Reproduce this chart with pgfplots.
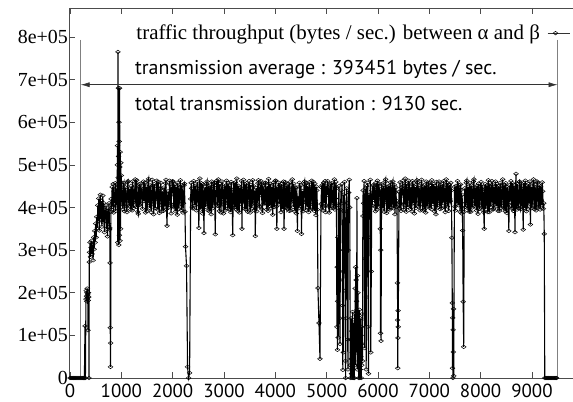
\documentclass[border=0pt]{standalone}
\usepackage{fontspec}
\setmainfont{Liberation Serif}
\newfontfamily\sansf{PT Sans}
\usepackage{pgfplots}
\pgfplotsset{compat=1.18}
\usetikzlibrary{arrows.meta}
\begin{document}
\begin{tikzpicture}
\useasboundingbox (0,0) rectangle (573bp,402bp);
\begin{axis}[
  at={(69bp,24bp)}, anchor=south west,
  width=504bp, height=370bp, scale only axis,
  xmin=-20, xmax=9800, ymin=0, ymax=868,
  clip=false,
  axis x line*=box, axis y line*=left,
  axis line style={black!70, line width=0.6pt},
  tick style={black!70, line width=0.6pt},
  tick align=inside, major tick length=6bp,
  xtick={0,1000,2000,3000,4000,5000,6000,7000,8000,9000},
  xticklabels={0,1000,2000,3000,4000,5000,6000,7000,8000,9000},
  ytick={0,100,200,300,400,500,600,700,800},
  yticklabels={0,1e+05,2e+05,3e+05,4e+05,5e+05,6e+05,7e+05,8e+05},
  yticklabel style={font=\fontsize{20}{20}\selectfont, inner sep=1bp},
  xticklabel style={font=\sansf\fontsize{19}{19}\selectfont, inner sep=1bp, yshift=-5bp},
  legend plot pos=right,
  legend cell align=right,
  legend style={at={(0.994,0.932)}, anchor=east, draw=none, fill=none, inner sep=0pt,
    font=\fontsize{21}{21}\selectfont},
  legend image code/.code={%
    \path (0bp,0bp);
    \draw[#1, line width=0.5pt, black!80] (5bp,0bp) -- (27bp,0bp);
    \draw[#1, line width=0.5pt] plot coordinates {(13bp,0bp)};},
]
\draw[black!50, line width=0.6pt] (axis cs:208,793) -- (axis cs:208,0);
\draw[black!50, line width=0.6pt] (axis cs:9500,793) -- (axis cs:9500,0);
\addplot[black, line width=1.1pt, mark=diamond, mark size=2.4bp,
  mark options={rotate=90, black, line width=0.5pt, solid}]
 table[row sep=\\] {
x y\\
0 0\\ 20 0\\ 40 0\\ 60 0\\ 80 0\\ 100 0\\ 120 0\\ 140 0\\ 160 0\\ 180 0\\ 200 0\\ 220 0\\ 240 0\\ 260 0\\ 280 0\\
292 122\\ 300 0\\ 310 185\\ 315 205\\ 320 192\\ 325 180\\ 330 200\\ 335 210\\ 340 188\\ 345 195\\ 350 112\\ 355 182\\ 360 200\\ 365 190\\ 370 0\\ 375 272\\
380 295\\ 390 318\\ 400 284\\ 410 306\\ 420 322\\ 430 291\\ 440 312\\ 450 276\\ 460 330\\ 470 302\\ 480 345\\ 490 318\\ 500 362\\ 510 330\\ 520 378\\
530 352\\ 540 405\\ 550 368\\ 560 421\\ 570 346\\ 580 398\\ 590 430\\ 600 372\\ 610 415\\ 620 355\\ 630 402\\ 640 428\\ 650 365\\ 660 410\\ 670 342\\ 680 395\\
690 372\\ 700 405\\ 710 350\\ 720 392\\ 730 332\\ 740 398\\ 750 362\\ 760 410\\ 770 348\\
776 352\\ 780 270\\ 784 118\\ 788 26\\ 792 82\\ 796 390\\
800 420\\ 810 395\\ 820 448\\ 830 402\\ 840 455\\ 850 388\\ 860 437\\ 870 410\\ 880 457\\ 890 392\\ 900 445\\ 910 405\\
918 455\\ 922 500\\ 926 545\\ 930 318\\ 934 765\\ 938 470\\ 942 680\\ 946 520\\ 950 312\\ 954 600\\ 958 555\\ 962 335\\ 966 680\\ 970 495\\ 974 322\\ 978 530\\ 982 460\\ 986 350\\ 990 505\\ 994 420\\ 998 475\\
1010 442\\ 1020 408\\ 1030 396\\ 1040 453\\ 1050 458\\ 1060 391\\ 1070 411\\ 1080 447\\ 1090 435\\ 1100 402\\ 1110 389\\ 1120 459\\ 1130 462\\ 1140 417\\ 1150 404\\ 1160 444\\ 1170 427\\ 1180 395\\ 1190 451\\ 1200 420\\
1210 393\\ 1220 461\\ 1230 446\\ 1240 399\\ 1250 418\\ 1260 437\\ 1270 466\\ 1280 412\\ 1290 401\\ 1300 464\\ 1310 432\\ 1320 390\\ 1330 385\\ 1340 448\\ 1350 455\\ 1360 406\\ 1370 409\\ 1380 456\\ 1390 440\\ 1400 427\\
1410 397\\ 1420 443\\ 1430 461\\ 1440 415\\ 1450 423\\ 1460 458\\ 1470 388\\ 1480 433\\ 1490 449\\ 1500 392\\ 1510 414\\ 1520 462\\ 1530 467\\ 1540 410\\ 1550 399\\ 1560 452\\ 1570 436\\ 1580 389\\ 1590 408\\ 1600 465\\
1610 452\\ 1620 416\\ 1630 384\\ 1640 455\\ 1650 430\\ 1660 398\\ 1670 419\\ 1680 450\\ 1690 463\\ 1700 421\\ 1710 395\\ 1720 460\\ 1730 444\\ 1740 387\\ 1750 406\\ 1760 445\\ 1770 458\\ 1780 413\\ 1790 391\\ 1800 438\\
1810 425\\ 1820 392\\ 1830 447\\ 1840 418\\ 1850 402\\ 1860 457\\ 1870 465\\ 1880 396\\ 1890 357\\ 1900 421\\ 1910 438\\ 1920 400\\ 1930 412\\ 1940 463\\ 1950 454\\ 1960 409\\ 1970 386\\ 1980 449\\ 1990 433\\ 2000 462\\
2010 460\\ 2020 403\\ 2030 400\\ 2040 454\\ 2050 428\\ 2060 391\\ 2070 449\\ 2080 419\\ 2090 383\\ 2100 458\\ 2110 441\\ 2120 396\\ 2130 415\\ 2140 447\\ 2150 464\\ 2160 408\\ 2170 394\\ 2180 452\\ 2190 437\\ 2200 388\\
2210 410\\ 2220 452\\ 2230 456\\ 2240 390\\ 2250 308\\ 2270 263\\ 2290 26\\ 2310 0\\ 2330 12\\ 2350 420\\ 2360 458\\ 2370 445\\ 2380 401\\ 2390 398\\ 2400 436\\
2410 462\\ 2420 419\\ 2430 405\\ 2440 451\\ 2450 439\\ 2460 393\\ 2470 417\\ 2480 460\\ 2490 450\\ 2500 408\\ 2510 352\\ 2520 440\\ 2530 468\\ 2540 395\\ 2550 402\\ 2560 457\\ 2570 431\\ 2580 386\\ 2590 455\\ 2600 421\\
2610 340\\ 2620 437\\ 2630 448\\ 2640 401\\ 2650 409\\ 2660 456\\ 2670 461\\ 2680 412\\ 2690 393\\ 2700 450\\ 2710 426\\ 2720 391\\ 2730 452\\ 2740 415\\ 2750 384\\ 2760 461\\ 2770 443\\ 2780 398\\ 2790 414\\ 2800 455\\
2810 458\\ 2820 410\\ 2830 337\\ 2840 442\\ 2850 430\\ 2860 463\\ 2870 404\\ 2880 449\\ 2890 466\\ 2900 403\\ 2910 392\\ 2920 455\\ 2930 437\\ 2940 388\\ 2950 419\\ 2960 461\\ 2970 453\\ 2980 407\\ 2990 386\\ 3000 440\\
3010 445\\ 3020 393\\ 3030 410\\ 3040 452\\ 3050 463\\ 3060 417\\ 3070 398\\ 3080 458\\ 3090 428\\ 3100 396\\ 3110 451\\ 3120 412\\ 3130 389\\ 3140 460\\ 3150 442\\ 3160 400\\ 3170 335\\ 3180 431\\ 3190 457\\ 3200 414\\
3210 401\\ 3220 459\\ 3230 434\\ 3240 395\\ 3250 468\\ 3260 411\\ 3270 392\\ 3280 451\\ 3290 420\\ 3300 388\\ 3310 447\\ 3320 409\\ 3330 425\\ 3340 462\\ 3350 350\\ 3360 444\\ 3370 412\\ 3380 465\\ 3390 438\\ 3400 397\\
3410 455\\ 3420 412\\ 3430 396\\ 3440 457\\ 3450 443\\ 3460 390\\ 3470 417\\ 3480 448\\ 3490 462\\ 3500 406\\ 3510 388\\ 3520 453\\ 3530 432\\ 3540 398\\ 3550 409\\ 3560 464\\ 3570 451\\ 3580 418\\ 3590 393\\ 3600 440\\
3610 333\\ 3620 432\\ 3630 446\\ 3640 391\\ 3650 419\\ 3660 457\\ 3670 464\\ 3680 405\\ 3690 402\\ 3700 449\\ 3710 429\\ 3720 462\\ 3730 454\\ 3740 396\\ 3750 387\\ 3760 451\\ 3770 440\\ 3780 409\\ 3790 411\\ 3800 458\\
3810 458\\ 3820 410\\ 3830 395\\ 3840 450\\ 3850 436\\ 3860 392\\ 3870 467\\ 3880 421\\ 3890 404\\ 3900 456\\ 3910 425\\ 3920 398\\ 3930 449\\ 3940 411\\ 3950 383\\ 3960 458\\ 3970 442\\ 3980 401\\ 3990 416\\ 4000 463\\
4010 463\\ 4020 402\\ 4030 350\\ 4040 437\\ 4050 431\\ 4060 458\\ 4070 407\\ 4080 446\\ 4090 452\\ 4100 412\\ 4110 389\\ 4120 455\\ 4130 444\\ 4140 396\\ 4150 418\\ 4160 461\\ 4170 350\\ 4180 427\\ 4190 460\\ 4200 405\\
4210 399\\ 4220 452\\ 4230 428\\ 4240 398\\ 4250 455\\ 4260 410\\ 4270 392\\ 4280 459\\ 4290 437\\ 4300 393\\ 4310 414\\ 4320 446\\ 4330 466\\ 4340 420\\ 4350 401\\ 4360 456\\ 4370 433\\ 4380 391\\ 4390 447\\ 4400 413\\
4410 386\\ 4420 447\\ 4430 345\\ 4440 423\\ 4450 421\\ 4460 398\\ 4470 458\\ 4480 412\\ 4490 404\\ 4500 452\\ 4510 338\\ 4520 430\\ 4530 439\\ 4540 391\\ 4550 412\\ 4560 455\\ 4570 461\\ 4580 420\\ 4590 394\\ 4600 458\\
4610 427\\ 4620 401\\ 4630 450\\ 4640 412\\ 4650 389\\ 4660 459\\ 4670 444\\ 4680 395\\ 4690 418\\ 4700 448\\ 4710 463\\ 4720 407\\ 4730 397\\ 4740 460\\ 4750 431\\ 4760 392\\ 4770 456\\ 4780 417\\ 4790 382\\ 4800 449\\
4810 440\\ 4820 395\\ 4830 211\\ 4850 129\\ 4870 45\\ 4890 408\\ 4900 447\\ 4910 452\\ 4920 401\\ 4930 393\\ 4940 458\\ 4950 437\\ 4960 410\\ 4970 462\\ 4980 389\\ 4990 405\\ 5000 451\\
5010 429\\ 5020 462\\ 5030 448\\ 5040 403\\ 5050 388\\ 5060 441\\ 5070 456\\ 5080 398\\ 5090 414\\ 5100 457\\ 5110 436\\ 5120 410\\ 5130 399\\ 5140 452\\ 5150 466\\ 5160 395\\ 5170 421\\ 5180 460\\ 5190 445\\
5200 120\\ 5205 260\\ 5210 66\\ 5215 180\\ 5220 330\\ 5225 95\\ 5230 405\\ 5240 450\\ 5250 300\\ 5255 140\\ 5260 80\\ 5265 230\\ 5270 395\\ 5280 440\\ 5290 410\\ 5300 455\\
5310 170\\ 5315 19\\ 5320 250\\ 5325 60\\ 5330 430\\ 5340 390\\ 5350 460\\ 5360 205\\ 5365 40\\ 5370 0\\ 5375 140\\ 5380 350\\ 5390 445\\ 5400 410\\ 5410 90\\ 5415 20\\ 5420 300\\ 5430 435\\ 5440 465\\ 5450 400\\
5460 30\\ 5465 0\\ 5470 90\\ 5475 140\\ 5480 45\\ 5485 10\\ 5490 110\\ 5495 0\\ 5500 60\\ 5505 155\\ 5510 20\\ 5515 80\\ 5520 0\\ 5525 130\\ 5530 40\\ 5535 100\\ 5540 0\\ 5545 150\\ 5550 70\\ 5555 210\\
5560 30\\ 5565 260\\ 5570 120\\ 5575 230\\ 5580 60\\ 5585 180\\ 5590 422\\ 5595 20\\ 5600 240\\ 5605 90\\ 5610 200\\ 5615 150\\ 5620 30\\ 5625 0\\ 5630 110\\ 5635 60\\ 5640 160\\ 5645 0\\ 5650 90\\ 5655 20\\
5660 140\\ 5665 50\\ 5670 100\\ 5675 0\\ 5680 120\\ 5685 30\\ 5690 80\\ 5695 150\\ 5700 40\\ 5705 380\\
5710 440\\ 5720 410\\ 5730 462\\ 5740 70\\ 5745 280\\ 5750 390\\ 5760 445\\ 5770 20\\ 5775 190\\ 5780 450\\ 5790 400\\ 5800 458\\ 5810 120\\ 5815 10\\ 5820 330\\ 5830 430\\ 5840 395\\ 5850 465\\ 5860 60\\ 5870 250\\ 5880 440\\ 5890 405\\ 5900 452\\
5910 418\\ 5920 451\\ 5930 447\\ 5940 402\\ 5950 391\\ 5960 458\\ 5970 436\\ 5980 395\\ 5990 463\\ 6000 419\\ 6010 402\\ 6020 456\\ 6030 429\\ 6040 444\\ 6045 350\\ 6050 105\\ 6055 300\\ 6060 87\\
6070 455\\ 6080 407\\ 6090 398\\ 6100 452\\ 6110 441\\ 6120 390\\ 6130 412\\ 6140 461\\ 6150 466\\ 6160 418\\ 6170 387\\ 6180 449\\ 6190 433\\ 6200 396\\ 6210 450\\ 6220 427\\ 6230 395\\ 6240 459\\ 6250 444\\ 6260 400\\
6270 409\\ 6280 455\\ 6290 461\\ 6300 398\\ 6310 426\\ 6320 453\\ 6330 384\\ 6340 436\\ 6350 447\\ 6360 402\\ 6370 415\\
6380 223\\ 6383 136\\ 6386 23\\ 6389 94\\ 6392 158\\ 6395 120\\
6410 437\\ 6420 398\\ 6430 459\\ 6440 410\\ 6450 392\\ 6460 447\\ 6470 428\\ 6480 462\\ 6490 451\\ 6500 395\\ 6510 405\\ 6520 440\\ 6530 468\\ 6540 412\\ 6550 390\\ 6560 455\\ 6570 443\\ 6580 401\\ 6590 420\\ 6600 463\\
6610 455\\ 6620 404\\ 6630 397\\ 6640 449\\ 6650 434\\ 6660 391\\ 6670 462\\ 6680 420\\ 6690 411\\ 6700 457\\ 6710 386\\ 6720 431\\ 6730 448\\ 6740 399\\ 6750 425\\ 6760 464\\ 6770 459\\ 6780 410\\ 6790 402\\ 6800 446\\
6810 440\\ 6820 393\\ 6830 417\\ 6840 456\\ 6850 465\\ 6860 408\\ 6870 393\\ 6880 449\\ 6890 431\\ 6900 395\\ 6910 452\\ 6920 414\\ 6930 388\\ 6940 461\\ 6950 446\\ 6960 402\\ 6970 413\\ 6980 455\\ 6990 458\\ 7000 406\\
7010 399\\ 7020 450\\ 7030 437\\ 7040 396\\ 7050 464\\ 7060 421\\ 7070 408\\ 7080 455\\ 7090 425\\ 7100 391\\ 7110 450\\ 7120 412\\ 7130 384\\ 7140 460\\ 7150 443\\ 7160 400\\ 7170 419\\ 7180 447\\ 7190 461\\ 7200 409\\
7210 396\\ 7220 453\\ 7230 432\\ 7240 398\\ 7250 455\\ 7260 417\\ 7270 410\\ 7280 462\\ 7290 447\\ 7300 401\\ 7310 389\\ 7320 441\\ 7330 466\\ 7340 413\\ 7350 402\\ 7360 457\\ 7370 428\\ 7380 392\\ 7390 453\\ 7400 420\\
7410 415\\ 7420 458\\ 7430 440\\
7440 329\\ 7448 176\\ 7452 23\\ 7456 141\\ 7460 0\\ 7464 113\\ 7468 61\\ 7472 162\\ 7476 5\\
7490 448\\ 7500 402\\ 7510 393\\ 7520 451\\ 7530 436\\ 7540 409\\ 7550 462\\ 7560 418\\ 7570 405\\ 7580 453\\ 7590 427\\ 7600 390\\ 7610 454\\ 7620 441\\ 7630 386\\ 7640 430\\
7650 346\\ 7660 179\\ 7670 73\\ 7680 390\\
7690 445\\ 7700 401\\ 7710 411\\ 7720 458\\ 7730 463\\ 7740 404\\ 7750 398\\ 7760 449\\ 7770 432\\ 7780 390\\ 7790 457\\ 7800 415\\ 7810 390\\ 7820 452\\ 7830 439\\ 7840 400\\ 7850 418\\ 7860 461\\ 7870 466\\ 7880 409\\
7890 402\\ 7900 447\\ 7910 429\\ 7920 393\\ 7930 451\\ 7940 419\\ 7950 385\\ 7960 456\\ 7970 444\\ 7980 397\\ 7990 414\\ 8000 450\\ 8010 460\\ 8020 405\\ 8030 395\\ 8040 448\\ 8050 437\\ 8060 389\\ 8070 350\\ 8080 443\\
8090 455\\ 8100 396\\ 8110 408\\ 8120 452\\ 8130 431\\ 8140 389\\ 8150 464\\ 8160 418\\ 8170 389\\ 8180 457\\ 8190 442\\ 8200 401\\ 8210 420\\ 8220 462\\ 8230 453\\ 8240 395\\ 8250 397\\ 8260 449\\ 8270 436\\ 8280 407\\
8290 461\\ 8300 412\\ 8310 403\\ 8320 455\\ 8330 427\\ 8340 392\\ 8350 450\\ 8360 436\\ 8370 392\\ 8380 458\\ 8390 445\\ 8400 399\\ 8410 416\\ 8420 451\\ 8430 466\\ 8440 404\\ 8450 399\\ 8460 452\\ 8470 434\\ 8480 391\\
8490 457\\ 8500 415\\ 8510 387\\ 8520 448\\ 8530 440\\ 8540 399\\ 8550 345\\ 8560 452\\ 8570 413\\ 8580 438\\ 8590 462\\ 8600 404\\ 8610 398\\ 8620 457\\ 8630 430\\ 8640 392\\ 8650 452\\ 8660 419\\ 8670 342\\ 8680 446\\
8690 479\\ 8700 403\\ 8710 395\\ 8720 455\\ 8730 437\\ 8740 398\\ 8750 412\\ 8760 461\\ 8770 458\\ 8780 396\\ 8790 401\\ 8800 450\\ 8810 444\\ 8820 409\\ 8830 348\\ 8840 457\\ 8850 426\\ 8860 399\\ 8870 463\\ 8880 414\\
8890 391\\ 8900 452\\ 8910 435\\ 8920 397\\ 8930 455\\ 8940 420\\ 8950 409\\ 8960 461\\ 8970 360\\ 8980 431\\ 8990 449\\ 9000 398\\ 9010 418\\ 9020 457\\ 9030 466\\ 9040 405\\ 9050 396\\ 9060 448\\ 9070 442\\ 9080 393\\
9090 420\\ 9100 461\\ 9110 458\\ 9120 400\\ 9130 403\\ 9140 452\\ 9150 437\\ 9160 395\\ 9170 450\\ 9180 417\\ 9190 405\\ 9200 459\\ 9210 438\\ 9220 397\\ 9230 410\\ 9240 338\\
9250 0\\ 9270 0\\ 9290 0\\ 9310 0\\ 9330 0\\ 9350 0\\ 9370 0\\ 9390 0\\ 9410 0\\ 9430 0\\ 9450 0\\ 9470 0\\ 9480 0\\
};
\addlegendentry{traffic throughput (bytes / sec.) between α and β}
\draw[black!80, line width=0.6pt, {Latex[length=9bp,width=5bp]}-{Latex[length=9bp,width=5bp]}] (axis cs:208,688) -- (axis cs:9500,688);
\node[anchor=west, inner sep=0pt, font=\sansf\fontsize{20}{20}\selectfont] at (axis cs:1266,723) {transmission average : 393451 bytes / sec.};
\node[anchor=west, inner sep=0pt, font=\sansf\fontsize{20}{20}\selectfont] at (axis cs:1266,645) {total transmission duration : 9130 sec.};
\end{axis}
\end{tikzpicture}
\end{document}
